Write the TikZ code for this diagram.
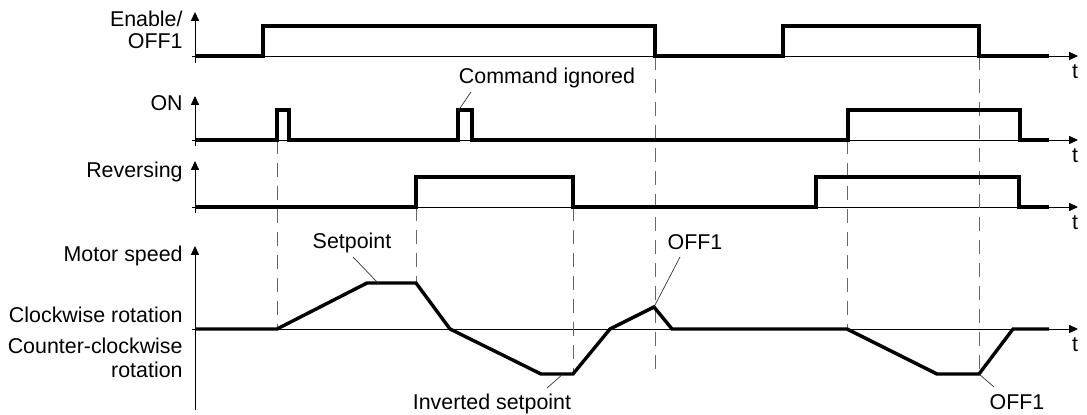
\documentclass[tikz,border=0pt]{standalone}
\usepackage{fontspec}
\setmainfont{Liberation Sans}
\usetikzlibrary{arrows.meta}
\begin{document}
\begin{tikzpicture}[x=0.5pt,y=-0.5pt,
  sig/.style={line width=1.7pt, line join=miter, line cap=butt},
  axisline/.style={line width=0.45pt},
  arr/.style={-{Triangle[length=4.4pt,width=4pt]}},
  guide/.style={black!60, line width=0.5pt, dash pattern=on 7pt off 4.5pt},
  leader/.style={line width=0.35pt, black!80},
  lbl/.style={font=\fontsize{10.7}{12}\selectfont, inner sep=0pt},
  llbl/.style={lbl, anchor=base east},
  tlbl/.style={lbl, anchor=base}]
\useasboundingbox (0,0) rectangle (1087,415);

% axes
\foreach \yb/\yt/\ybot/\nm in {56/12/63/en, 140/96/146/on, 207/161/213/rev, 329/246/410/mot}{
  \coordinate (\nm-l) at (192,\yb);
  \coordinate (\nm-r) at (1078,\yb);
  \coordinate (\nm-b) at (195,\ybot);
  \coordinate (\nm-t) at (195,\yt);
  \draw[axisline,arr] (\nm-l) -- (\nm-r);
  \draw[axisline,arr] (\nm-b) -- (\nm-t);
  \node[tlbl] (\nm-tl) at (1075,\yb+23) {t};
}

% guide lines
\foreach \x/\ya/\yb in {277/140/329, 416/207/283, 573/207/374, 655/56/374, 847/140/329, 979/56/374}{
  \draw[guide] (\x,\ya) -- (\x,\yb);
}

% signals
\draw[sig] (195,56) -- (263,56) -- (263,26) -- (655,26) -- (655,56) -- (783,56)
  -- (783,26) -- (979,26) -- (979,56) -- (1049,56);
\draw[sig] (195,140) -- (277,140) -- (277,110) -- (289,110) -- (289,140) -- (458,140)
  -- (458,110) -- (472,110) -- (472,140) -- (848,140) -- (848,110) -- (1020,110)
  -- (1020,140) -- (1049,140);
\draw[sig] (195,207) -- (416,207) -- (416,177) -- (573,177) -- (573,207) -- (816,207)
  -- (816,177) -- (1019,177) -- (1019,207) -- (1049,207);
\draw[sig] (195,329) -- (277,329) -- (367,283) -- (416,283) -- (450,329) -- (541,374)
  -- (573,374) -- (610,329) -- (654,307) -- (672,329) -- (847,329) -- (937,374)
  -- (979,374) -- (1013,329) -- (1049,329);

% left labels
\node[llbl] (l-en1) at (183,27) {Enable/};
\node[llbl] (l-en2) at (183,49) {OFF1};
\node[llbl] (l-on) at (183,111) {ON};
\node[llbl] (l-rev) at (183,178) {Reversing};
\node[llbl] (l-mot) at (183,262) {Motor speed};
\node[llbl] (l-cw) at (183,323) {Clockwise rotation};
\node[llbl] (l-ccw1) at (183,354) {Counter-clockwise};
\node[llbl] (l-ccw2) at (183,378) {rotation};

% annotations
\node[tlbl] (cmd) at (547,84) {Command ignored};
\node[tlbl] (setp) at (352,249) {Setpoint};
\node[tlbl] (offa) at (695,250) {OFF1};
\node[tlbl] (invs) at (492,410) {Inverted setpoint};
\node[tlbl] (offb) at (1017,410) {OFF1};

\coordinate (cmd-a) at (471,92);   \coordinate (cmd-b) at (458,111);
\coordinate (setp-a) at (353,257); \coordinate (setp-b) at (379,284);
\coordinate (offa-a) at (680,257); \coordinate (offa-b) at (654,307);
\coordinate (invs-a) at (547,388); \coordinate (invs-b) at (563,374);
\coordinate (offb-a) at (994,387); \coordinate (offb-b) at (979,374);
\draw[leader] (cmd-a) -- (cmd-b);
\draw[leader] (setp-a) -- (setp-b);
\draw[leader] (offa-a) -- (offa-b);
\draw[leader] (invs-a) -- (invs-b);
\draw[leader] (offb-a) -- (offb-b);
\end{tikzpicture}
\end{document}
